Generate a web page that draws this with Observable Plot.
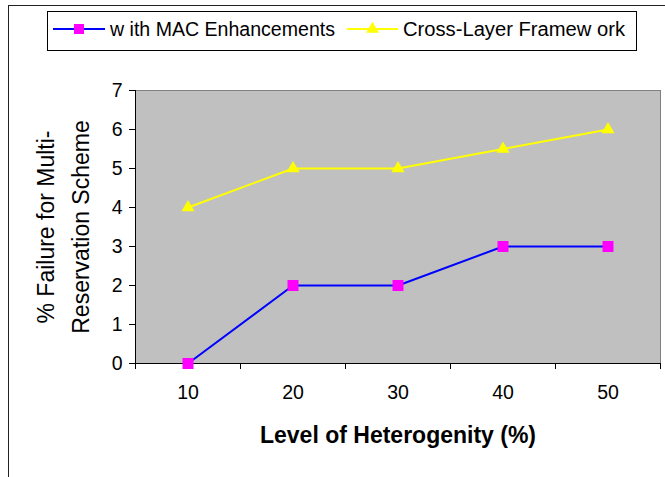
<!DOCTYPE html>
<html>
<head>
<meta charset="utf-8">
<script src="https://cdn.jsdelivr.net/npm/d3@7"></script>
<script src="https://cdn.jsdelivr.net/npm/@observablehq/plot@0.6"></script>
<style>
  html, body { margin: 0; padding: 0; background: #fff; }
  #wrap { position: relative; width: 665px; height: 477px; overflow: hidden; font-family: "Liberation Sans", Arial, sans-serif; }
  #border { position: absolute; left: 8px; top: 5px; width: 2000px; height: 2000px; border-left: 1px solid #222; border-top: 1px solid #222; }
  #chart, #legend { position: absolute; left: 0; top: 0; }
</style>
</head>
<body>
<div id="wrap"><div id="border"></div><div id="chart"></div><div id="legend"></div></div>
<script>
// ---- data ----
const levels = [10, 20, 30, 40, 50];
const macEnhancements = [0, 2, 2, 3, 3];
const crossLayer = [4, 5, 5, 5.5, 6];
const seriesNames = ["w ith MAC Enhancements", "Cross-Layer Framew ork"];
const yTicks = [0, 1, 2, 3, 4, 5, 6, 7];
const xBoundaries = [5, 15, 25, 35, 45, 55];
const xTitle = "Level of Heterogenity (%)";
const yTitleLines = ["% Failure for Multi-", "Reservation Scheme"];

const macData = levels.map((x, i) => ({x, y: macEnhancements[i]}));
const crossData = levels.map((x, i) => ({x, y: crossLayer[i]}));

const font = "Liberation Sans, Arial, sans-serif";

const chart = Plot.plot({
  width: 665,
  height: 477,
  marginLeft: 135,
  marginRight: 5,
  marginTop: 90,
  marginBottom: 114,
  style: {fontFamily: font, fontSize: "19px", background: "transparent", color: "#000"},
  x: {domain: [5, 55]},
  y: {domain: [0, 7]},
  marks: [
    Plot.frame({fill: "#c0c0c0", stroke: "#808080"}),
    Plot.axisY({ticks: yTicks, tickSize: 6, tickPadding: 7, label: null, tickFormat: d => String(d), fontSize: 19.5, stroke: "#000", strokeOpacity: 1}),
    Plot.axisX({ticks: xBoundaries, tickSize: 6, tickFormat: () => "", label: null, stroke: "#000", strokeOpacity: 1}),
    Plot.axisX({ticks: levels, tickSize: 0, tickPadding: 22, label: null, tickFormat: d => String(d), fontSize: 19.5}),
    Plot.ruleX([5], {stroke: "#000", strokeWidth: 1}),
    Plot.ruleY([0], {stroke: "#000", strokeWidth: 1}),
    Plot.line(crossData, {x: "x", y: "y", stroke: "#ffff00", strokeWidth: 2}),
    Plot.line(macData, {x: "x", y: "y", stroke: "#0000ff", strokeWidth: 2}),
    Plot.dot(crossData, {x: "x", y: "y", symbol: "triangle", r: 4.9, fill: "#ffff00", stroke: "none"}),
    Plot.dot(macData, {x: "x", y: "y", symbol: "square", r: 6.2, fill: "#ff00ff", stroke: "none"}),
    Plot.text([yTitleLines[0]], {frameAnchor: "left", textAnchor: "middle", lineAnchor: "middle", dx: -89, rotate: -90, fontSize: 23, fill: "#000", ariaLabel: "ytitle1"}),
    Plot.text([yTitleLines[1]], {frameAnchor: "left", textAnchor: "middle", lineAnchor: "middle", dx: -54, rotate: -90, fontSize: 23, fill: "#000", ariaLabel: "ytitle2"}),
    Plot.text([xTitle], {frameAnchor: "bottom", textAnchor: "middle", lineAnchor: "middle", dy: 72, fontSize: 23, fontWeight: "bold", fill: "#000", ariaLabel: "xtitle"})
  ]
});
document.getElementById("chart").appendChild(chart);

// stretch titles to the reference's wider lettering
d3.select(chart).selectAll('g[aria-label="ytitle1"] text').attr("textLength", 208).attr("lengthAdjust", "spacingAndGlyphs");
d3.select(chart).selectAll('g[aria-label="ytitle2"] text').attr("textLength", 228).attr("lengthAdjust", "spacingAndGlyphs");
d3.select(chart).selectAll('g[aria-label="xtitle"] text').attr("textLength", 295).attr("lengthAdjust", "spacingAndGlyphs");

// ---- legend ----
const lg = d3.create("svg").attr("width", 665).attr("height", 60).style("font-family", font);
lg.append("rect").attr("x", 47.5).attr("y", 11.5).attr("width", 589).attr("height", 39)
  .attr("fill", "#fff").attr("stroke", "#000");
const items = [
  {name: seriesNames[0], color: "#0000ff", mcolor: "#ff00ff", shape: d3.symbolSquare, size: 100, x0: 53, x1: 105, tx: 110, len: 225},
  {name: seriesNames[1], color: "#ffff00", mcolor: "#ffff00", shape: d3.symbolTriangle, size: 70, x0: 347, x1: 398, tx: 403, len: 222}
];
for (const it of items) {
  lg.append("line").attr("x1", it.x0).attr("x2", it.x1).attr("y1", 29).attr("y2", 29)
    .attr("stroke", it.color).attr("stroke-width", 2);
  lg.append("path").attr("d", d3.symbol(it.shape, it.size)())
    .attr("transform", `translate(${(it.x0 + it.x1) / 2},29)`).attr("fill", it.mcolor);
  lg.append("text").attr("x", it.tx).attr("y", 29).attr("dy", "0.35em")
    .attr("font-size", 19.5).attr("fill", "#000")
    .attr("textLength", it.len).attr("lengthAdjust", "spacingAndGlyphs").text(it.name);
}
document.getElementById("legend").appendChild(lg.node());
</script>
</body>
</html>
